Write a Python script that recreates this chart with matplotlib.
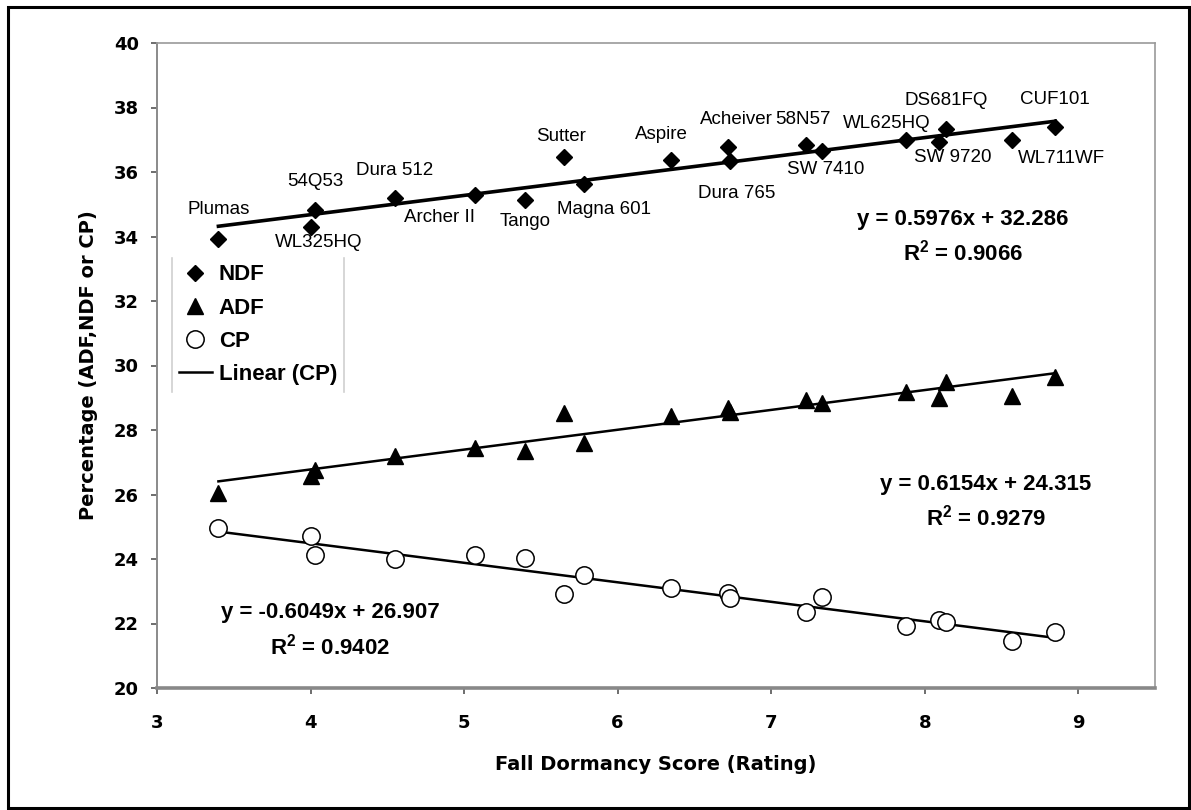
import numpy as np
import matplotlib.pyplot as plt
from matplotlib import use
from matplotlib.patches import Rectangle
from matplotlib.lines import Line2D

use('Agg')

# cultivares y su puntaje de latencia otoñal
varieties = ['Plumas', 'WL325HQ', '54Q53', 'Dura 512', 'Archer II', 'Tango',
             'Sutter', 'Magna 601', 'Aspire', 'Acheiver', 'Dura 765', '58N57',
             'SW 7410', 'WL625HQ', 'SW 9720', 'DS681FQ', 'WL711WF', 'CUF101']
fall_dormancy = [3.40, 4.00, 4.03, 4.55, 5.07, 5.40, 5.65, 5.78, 6.35, 6.72,
                 6.73, 7.23, 7.33, 7.88, 8.09, 8.14, 8.57, 8.85]

ndf = [33.92, 34.30, 34.82, 35.18, 35.29, 35.14, 36.46, 35.64, 36.37, 36.78,
       36.33, 36.85, 36.64, 36.98, 36.92, 37.34, 36.98, 37.38]
adf = [26.04, 26.58, 26.76, 27.19, 27.44, 27.36, 28.52, 27.60, 28.43, 28.68,
       28.57, 28.93, 28.85, 29.19, 29.00, 29.48, 29.05, 29.65]
cp = [24.97, 24.71, 24.12, 23.99, 24.12, 24.02, 22.90, 23.49, 23.09, 22.95,
      22.80, 22.37, 22.82, 21.93, 22.12, 22.05, 21.45, 21.75]

# coeficientes de las lineas de tendencia (pendiente, intercepto, R2)
ndf_fit = (0.5976, 32.286, 0.9066)
adf_fit = (0.6154, 24.315, 0.9279)
cp_fit = (-0.6049, 26.907, 0.9402)

# desplazamiento de cada etiqueta respecto a su punto (pixeles)
label_offsets = [(0, 30), (8, -16), (0, 29), (0, 28), (-35, -23), (0, -22),
                 (-3, 21), (20, -26), (-10, 26), (8, 27), (7, -32), (-4, 25),
                 (4, -18), (-20, 17), (14, -15), (0, 28), (49, -18), (0, 28)]

W, H, DPI = 1191, 810, 100
fig = plt.figure(figsize=(W / DPI, H / DPI), dpi=DPI)
ax = fig.add_axes([157 / W, 1 - 688 / H, (1155 - 157) / W, (688 - 43) / H])

plt.rcParams['mathtext.default'] = 'bf'
plt.rcParams['mathtext.fontset'] = 'custom'
plt.rcParams['mathtext.bf'] = 'Liberation Sans:bold'

# marco negro alrededor de toda la figura
fig.patches.append(Rectangle((8 / W, 2 / H), (1189 - 8) / W, (808 - 7) / H,
                             transform=fig.transFigure, fill=False,
                             edgecolor='black', linewidth=2.2))

x = np.array(fall_dormancy)
ax.plot(x, ndf, 'D', color='black', markersize=8, zorder=3, label='NDF')
ax.plot(x, adf, '^', color='black', markersize=11, zorder=3, label='ADF')
ax.plot(x, cp, 'o', markerfacecolor='white', markeredgecolor='black',
        markeredgewidth=1.1, markersize=12.5, zorder=3, label='CP')

xs = np.array([x.min(), x.max()])
ax.plot(xs, ndf_fit[0] * xs + ndf_fit[1], color='black', lw=2.6, zorder=2)
ax.plot(xs, adf_fit[0] * xs + adf_fit[1], color='black', lw=1.8, zorder=2)
ax.plot(xs, cp_fit[0] * xs + cp_fit[1], color='black', lw=1.8, zorder=2,
        label='Linear (CP)')

for name, xv, yv, (dx, dy) in zip(varieties, x, ndf, label_offsets):
    ax.annotate(name, (xv, yv), xytext=(dx * 0.72, dy * 0.72),
                textcoords='offset points', ha='center', va='center',
                fontsize=13.5, family='Liberation Sans', zorder=4)


def eq_text(fit, xc, yc):
    m, b, r2 = fit
    sign = '+' if b >= 0 else '-'
    ax.text(xc, yc, f'y = {m:.4f}x {sign} {abs(b):.3f}', ha='center',
            va='center', fontsize=16, fontweight='bold',
            family='Liberation Sans')
    ax.text(xc, yc - 1.03, f'R$^{{2}}$ = {r2:.4f}', ha='center', va='center',
            fontsize=16, fontweight='bold', family='Liberation Sans')


eq_text(ndf_fit, 8.25, 34.52)
eq_text(adf_fit, 8.40, 26.30)
eq_text(cp_fit, 4.13, 22.33)

ax.set_xlim(3, 9.5)
ax.set_ylim(20, 40)
ax.set_xticks(range(3, 10))
ax.set_yticks(range(20, 41, 2))

for side in ['top', 'right']:
    ax.spines[side].set_color('#9a9a9a')
    ax.spines[side].set_linewidth(1.2)
ax.spines['left'].set_color('#8a8a8a')
ax.spines['left'].set_linewidth(1.4)
ax.spines['bottom'].set_color('#888888')
ax.spines['bottom'].set_linewidth(2.6)

ax.tick_params(axis='both', direction='out', length=4, width=1.2,
               color='#555555', labelsize=13)
ax.tick_params(axis='x', pad=15)
ax.tick_params(axis='y', pad=9)
for lab in ax.get_xticklabels() + ax.get_yticklabels():
    lab.set_fontweight('bold')
    lab.set_family('DejaVu Sans')

ax.set_xlabel('Fall Dormancy Score (Rating)', fontsize=14, fontweight='bold',
              family='DejaVu Sans')
ax.set_ylabel('Percentage (ADF,NDF or CP)', fontsize=14, fontweight='bold',
              family='DejaVu Sans')
ax.xaxis.set_label_coords(0.5, -0.119)
ax.xaxis.label.set_va('center')
ax.yaxis.set_label_coords(-0.069, 0.5)
ax.yaxis.label.set_va('center')

leg = ax.legend(loc='upper left', bbox_to_anchor=(0.015, 0.667),
                borderaxespad=0, fancybox=False, framealpha=1,
                edgecolor='none', handlelength=1.5, handletextpad=0.3,
                labelspacing=0.55, borderpad=0.3,
                prop={'family': 'Liberation Sans', 'weight': 'bold',
                      'size': 16})

# la leyenda solo muestra bordes verticales grises
fig.canvas.draw()
bb = leg.get_window_extent().transformed(fig.transFigure.inverted())
for xe in (bb.x0, bb.x1):
    fig.add_artist(Line2D([xe, xe], [bb.y0, bb.y1], color='#d0d0d0',
                          lw=1.2, transform=fig.transFigure))

plt.savefig('out.png', dpi=DPI)
